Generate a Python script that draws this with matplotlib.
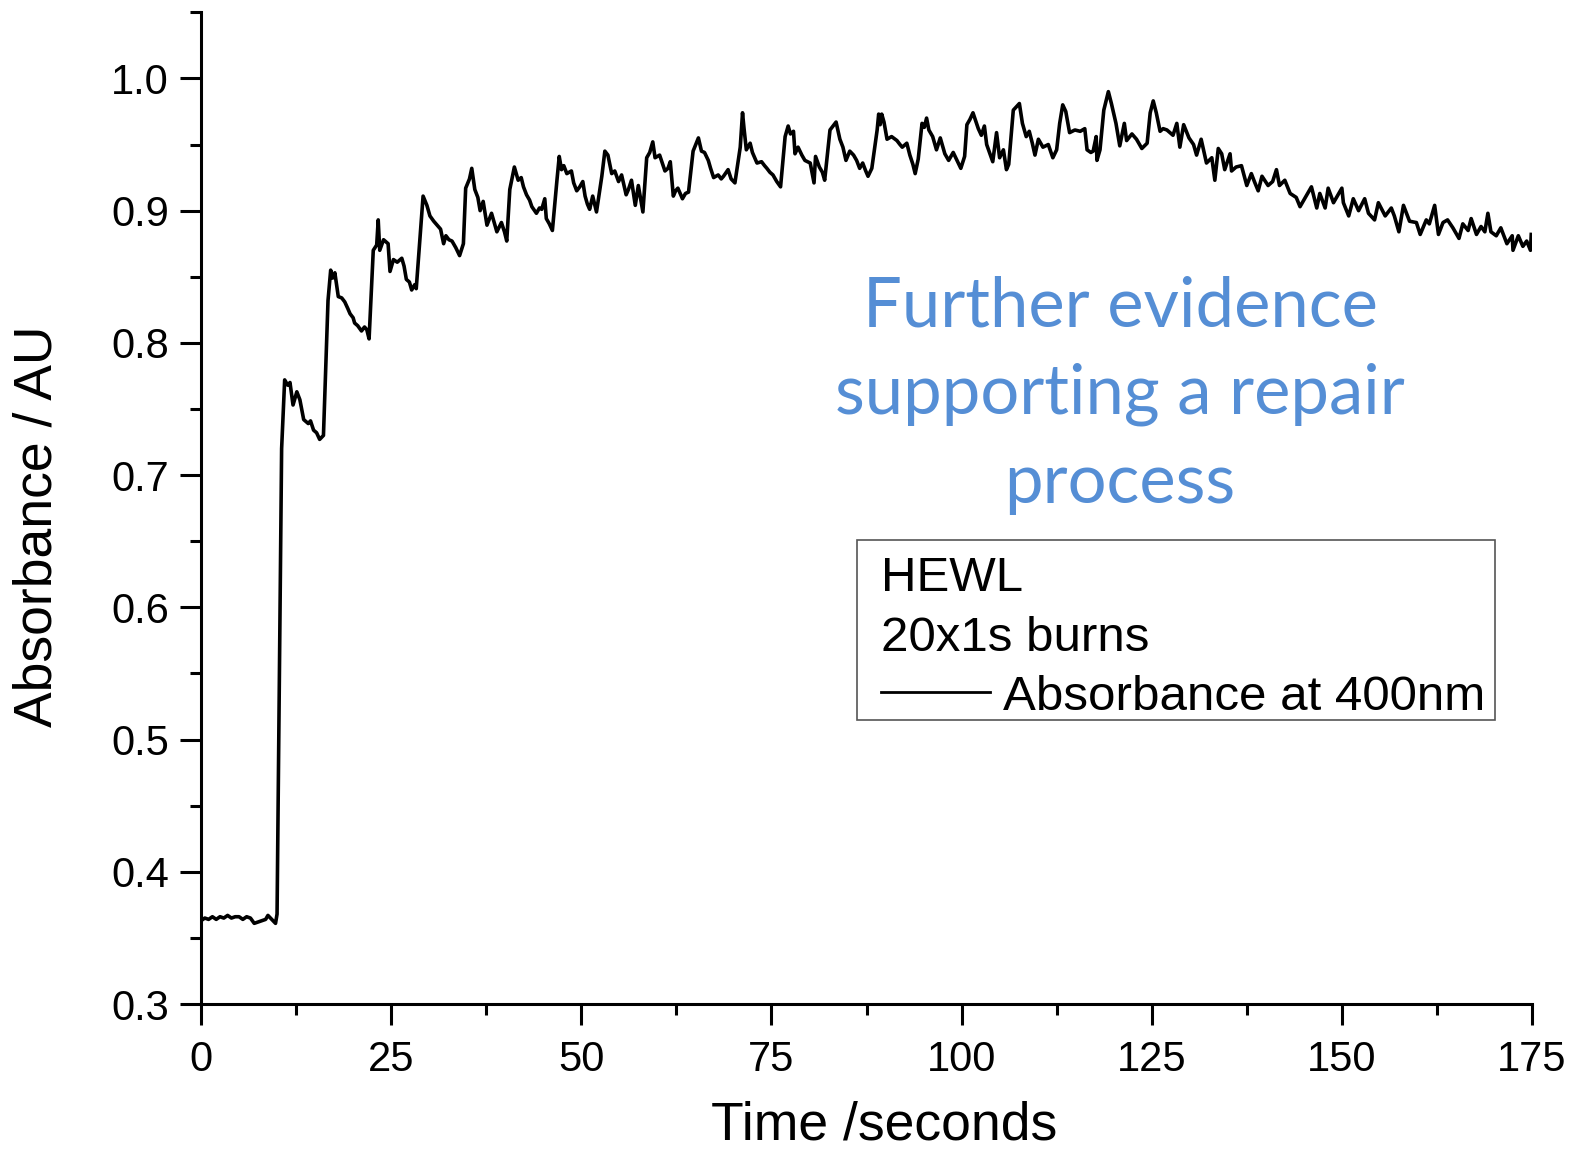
import matplotlib
matplotlib.use("Agg")
import matplotlib.pyplot as plt
from matplotlib.patches import Rectangle
from matplotlib.lines import Line2D
from matplotlib.ticker import MultipleLocator, FormatStrFormatter

# ---------------- data ----------------
baseline_t = [0.0, 0.5, 1.0, 1.5, 2.0, 2.5, 3.0, 3.5, 4.0, 4.5, 5.0, 5.5, 6.0, 6.5,
              7.0, 7.5, 8.0, 8.5, 8.8, 9.3, 9.8, 10.0]
baseline_a = [0.363, 0.365, 0.364, 0.366, 0.364, 0.366, 0.365, 0.367, 0.365, 0.366,
              0.366, 0.364, 0.366, 0.365, 0.361, 0.362, 0.363, 0.364, 0.367, 0.364,
              0.361, 0.368]

burn_t = [10.6, 11.0, 11.4, 11.7, 12.1, 12.6, 13.0, 13.5, 14.1, 14.4, 14.8, 15.2, 15.6, 16.1,
          16.7, 17.05, 17.3, 17.6, 18.05, 18.5, 18.9, 19.3, 19.6, 20.0, 20.2, 20.6, 21.1, 21.5, 21.8, 22.1,
          22.65, 23.1, 23.3, 23.5, 24.0, 24.6, 24.85, 25.3, 25.8, 26.4, 26.7, 27.0, 27.4, 27.7, 28.1, 28.3,
          29.2, 29.7, 30.1, 30.6, 31.2, 31.5, 31.9, 32.2, 32.6, 33.0, 33.5, 34.0, 34.5,
          34.8, 35.3, 35.6, 36.0, 36.4, 36.7, 37.1, 37.6, 38.2, 38.6, 38.9, 39.5, 39.9, 40.2,
          40.6, 41.2, 41.7, 42.1, 42.4, 42.8, 43.2, 43.5, 44.1, 44.5, 44.8, 45.2, 45.4, 45.8, 46.2,
          46.8, 47.1, 47.4, 47.7, 48.1, 48.7, 49.0, 49.4, 49.8, 50.2, 50.5, 50.8, 51.1, 51.5, 52.0,
          52.7, 53.1, 53.5, 54.0, 54.4, 54.9, 55.3, 55.9, 56.2, 56.6, 57.1, 57.5, 58.1,
          58.6, 59.0, 59.4, 59.7, 60.3, 61.0, 61.4, 61.7, 62.1, 62.4, 62.7, 63.3, 63.7, 64.1,
          64.7, 65.4, 65.8, 66.2, 66.7, 67.0, 67.4, 68.0, 68.4, 68.7, 69.3, 69.7, 70.2,
          70.9, 71.2, 71.4, 71.7, 72.2, 72.5, 73.1, 73.7, 74.1, 74.4, 74.8, 75.2, 75.7, 76.2,
          76.8, 77.2, 77.5, 77.9, 78.1, 78.5, 79.0, 79.4, 80.1, 80.6, 80.8, 81.3, 81.7, 82.0,
          82.7, 83.5, 84.0, 84.4, 84.8, 85.3, 85.8, 86.2, 86.6, 87.0, 87.4, 87.7, 88.2,
          88.9, 89.1, 89.3, 89.5, 89.8, 90.2, 90.8, 91.5, 91.9, 92.2, 92.8, 93.2, 93.6, 93.9, 94.3,
          94.8, 95.1, 95.4, 95.7, 96.2, 96.7, 97.2, 97.8, 98.3, 98.9, 99.4, 99.9, 100.4,
          100.7, 101.1, 101.5, 102.2, 102.6, 103.0, 103.3, 104.1, 104.6, 105.0, 105.5, 105.9, 106.2,
          106.8, 107.6, 108.0, 108.5, 108.9, 109.3, 109.65, 110.1, 110.7, 111.4, 112.0, 112.5,
          112.9, 113.3, 113.7, 114.2, 114.9, 115.6, 116.2, 116.5, 117.0, 117.3, 117.7, 117.8, 118.2,
          118.7, 119.3, 119.7, 120.3, 120.8, 121.4, 121.7, 122.4, 123.0, 123.7, 124.4]
burn_a = [0.720, 0.772, 0.768, 0.770, 0.753, 0.763, 0.757, 0.742, 0.739, 0.741, 0.734, 0.732, 0.727, 0.730,
          0.832, 0.855, 0.849, 0.853, 0.835, 0.834, 0.831, 0.826, 0.822, 0.819, 0.815, 0.813, 0.809, 0.812, 0.810, 0.803,
          0.870, 0.874, 0.893, 0.870, 0.878, 0.875, 0.854, 0.863, 0.861, 0.864, 0.858, 0.848, 0.846, 0.840, 0.844, 0.841,
          0.911, 0.904, 0.896, 0.892, 0.888, 0.886, 0.875, 0.881, 0.878, 0.877, 0.872, 0.866, 0.875,
          0.917, 0.924, 0.932, 0.916, 0.910, 0.900, 0.907, 0.889, 0.898, 0.890, 0.884, 0.891, 0.884, 0.877,
          0.916, 0.933, 0.923, 0.925, 0.918, 0.912, 0.908, 0.903, 0.898, 0.902, 0.901, 0.909, 0.894, 0.890, 0.885,
          0.923, 0.941, 0.931, 0.934, 0.928, 0.930, 0.921, 0.915, 0.918, 0.922, 0.911, 0.905, 0.901, 0.911, 0.899,
          0.926, 0.945, 0.942, 0.928, 0.930, 0.922, 0.927, 0.912, 0.916, 0.923, 0.904, 0.919, 0.899,
          0.940, 0.944, 0.952, 0.940, 0.942, 0.930, 0.932, 0.937, 0.911, 0.915, 0.917, 0.909, 0.913, 0.914,
          0.945, 0.955, 0.945, 0.944, 0.938, 0.932, 0.925, 0.927, 0.924, 0.926, 0.931, 0.924, 0.921,
          0.948, 0.974, 0.962, 0.946, 0.951, 0.944, 0.936, 0.937, 0.934, 0.932, 0.929, 0.927, 0.922, 0.918,
          0.956, 0.964, 0.958, 0.960, 0.943, 0.948, 0.942, 0.938, 0.936, 0.921, 0.941, 0.933, 0.929, 0.923,
          0.961, 0.967, 0.954, 0.948, 0.938, 0.945, 0.942, 0.938, 0.932, 0.936, 0.930, 0.926, 0.932,
          0.961, 0.973, 0.965, 0.973, 0.967, 0.954, 0.956, 0.953, 0.950, 0.948, 0.951, 0.942, 0.935, 0.928, 0.939,
          0.966, 0.963, 0.970, 0.961, 0.956, 0.946, 0.955, 0.943, 0.938, 0.944, 0.938, 0.932, 0.941,
          0.965, 0.969, 0.974, 0.962, 0.957, 0.964, 0.950, 0.937, 0.959, 0.940, 0.946, 0.931, 0.935,
          0.976, 0.981, 0.966, 0.956, 0.960, 0.951, 0.942, 0.954, 0.948, 0.950, 0.940, 0.946,
          0.966, 0.980, 0.975, 0.959, 0.961, 0.960, 0.962, 0.946, 0.944, 0.945, 0.956, 0.938, 0.946,
          0.976, 0.990, 0.981, 0.966, 0.949, 0.966, 0.953, 0.958, 0.954, 0.947, 0.951]

decay_t = [124.8, 125.2, 125.6, 126.1, 126.5, 127.0, 127.4, 127.8, 128.3, 128.7, 129.2, 129.9, 130.5,
           130.9, 131.5, 132.2, 132.9, 133.3, 133.75, 134.2, 134.6, 135.3, 135.5, 136.1, 136.8, 137.5,
           138.1, 138.5, 139.0, 139.5, 140.3, 140.9, 141.4, 141.8, 142.5, 143.2, 144.0, 144.5, 145.2,
           146.0, 146.7, 147.1, 147.8, 148.2, 148.9, 149.3, 150.0, 150.2, 150.9, 151.5, 152.2, 153.0,
           153.5, 154.3, 154.8, 155.7, 156.5, 156.9, 157.5, 158.1, 158.9, 159.8, 160.3, 161.1, 161.5,
           162.2, 162.7, 163.3, 163.9, 164.6, 165.4, 165.9, 166.6, 167.0, 167.7, 168.3, 168.8, 169.2,
           169.6, 170.3, 170.9, 171.7, 172.4, 172.5, 173.2, 173.8, 174.3, 174.8, 174.9]
decay_a = [0.974, 0.983, 0.974, 0.960, 0.962, 0.961, 0.959, 0.957, 0.966, 0.948, 0.965, 0.955, 0.950,
           0.942, 0.954, 0.936, 0.940, 0.923, 0.947, 0.943, 0.931, 0.943, 0.930, 0.933, 0.934, 0.919,
           0.928, 0.922, 0.915, 0.926, 0.919, 0.922, 0.931, 0.919, 0.923, 0.913, 0.910, 0.903, 0.910,
           0.918, 0.902, 0.913, 0.902, 0.917, 0.906, 0.910, 0.917, 0.906, 0.896, 0.909, 0.900, 0.909,
           0.898, 0.893, 0.906, 0.896, 0.902, 0.896, 0.884, 0.904, 0.892, 0.891, 0.882, 0.893, 0.890,
           0.904, 0.882, 0.891, 0.893, 0.887, 0.879, 0.890, 0.885, 0.894, 0.882, 0.888, 0.884, 0.898,
           0.884, 0.881, 0.887, 0.875, 0.881, 0.870, 0.881, 0.873, 0.877, 0.870, 0.882]

time_s = baseline_t + burn_t + decay_t
absorbance = baseline_a + burn_a + decay_a

x_ticks = [0, 25, 50, 75, 100, 125, 150, 175]
y_ticks = [0.3, 0.4, 0.5, 0.6, 0.7, 0.8, 0.9, 1.0]

annotation_lines = ["Further evidence", "supporting a repair", "process"]
legend_lines = ["HEWL", "20x1s burns", "Absorbance at 400nm"]

# ---------------- figure ----------------
W, H = 1576, 1149
plt.rcParams['font.family'] = ['Liberation Sans', 'DejaVu Sans']
fig = plt.figure(figsize=(W / 100, H / 100), dpi=100)
ax = fig.add_axes([201 / W, 1 - 1004 / H, (1532 - 201) / W, (1004 - 12.3) / H])

ax.plot(time_s, absorbance, color='black', lw=2.6, solid_joinstyle='round')

ax.set_xlim(0, 175)
ax.set_ylim(0.3, 1.05)
ax.set_xticks(x_ticks)
ax.set_yticks(y_ticks)
ax.xaxis.set_minor_locator(MultipleLocator(12.5))
ax.yaxis.set_minor_locator(MultipleLocator(0.05))
ax.yaxis.set_major_formatter(FormatStrFormatter('%.1f'))
for s in ['top', 'right']:
    ax.spines[s].set_visible(False)
for s in ['left', 'bottom']:
    ax.spines[s].set_linewidth(2.2)
ax.tick_params(which='major', direction='out', length=15, width=2.2, labelsize=30)
ax.tick_params(axis='x', which='major', pad=11)
ax.tick_params(axis='y', which='major', pad=8)
ax.tick_params(which='minor', direction='out', length=8, width=2.2)

fig.text(884 / W, 1 - 1139 / H, "Time /seconds", ha='center', va='baseline', fontsize=38.5)
fig.text(38 / W, 1 - 526 / H, "Absorbance / AU", ha='center', va='center', rotation=90, fontsize=38.5)

# annotation text
blue = '#558ED5'
for line, yb in zip(annotation_lines, [326.6, 414, 503]):
    fig.text(1120 / W, 1 - yb / H, line, ha='center', va='baseline', fontsize=49.5,
             color=blue, family=['Lato', 'DejaVu Sans'])

# legend box
fig.add_artist(Rectangle((857 / W, 1 - 720 / H), (1495 - 857) / W, (720 - 540) / H,
                         transform=fig.transFigure, facecolor='white', edgecolor='#555555', lw=1.2))
fig.text(881 / W, 1 - 591 / H, legend_lines[0], ha='left', va='baseline', fontsize=35.5)
fig.text(881 / W, 1 - 651 / H, legend_lines[1], ha='left', va='baseline', fontsize=35.5)
fig.add_artist(Line2D([881 / W, 990 / W], [1 - 691.5 / H, 1 - 691.5 / H],
                      transform=fig.transFigure, color='black', lw=2.0))
fig.text(1003 / W, 1 - 710.5 / H, legend_lines[2], ha='left', va='baseline', fontsize=35.5)

fig.savefig('out.png', dpi=100)
